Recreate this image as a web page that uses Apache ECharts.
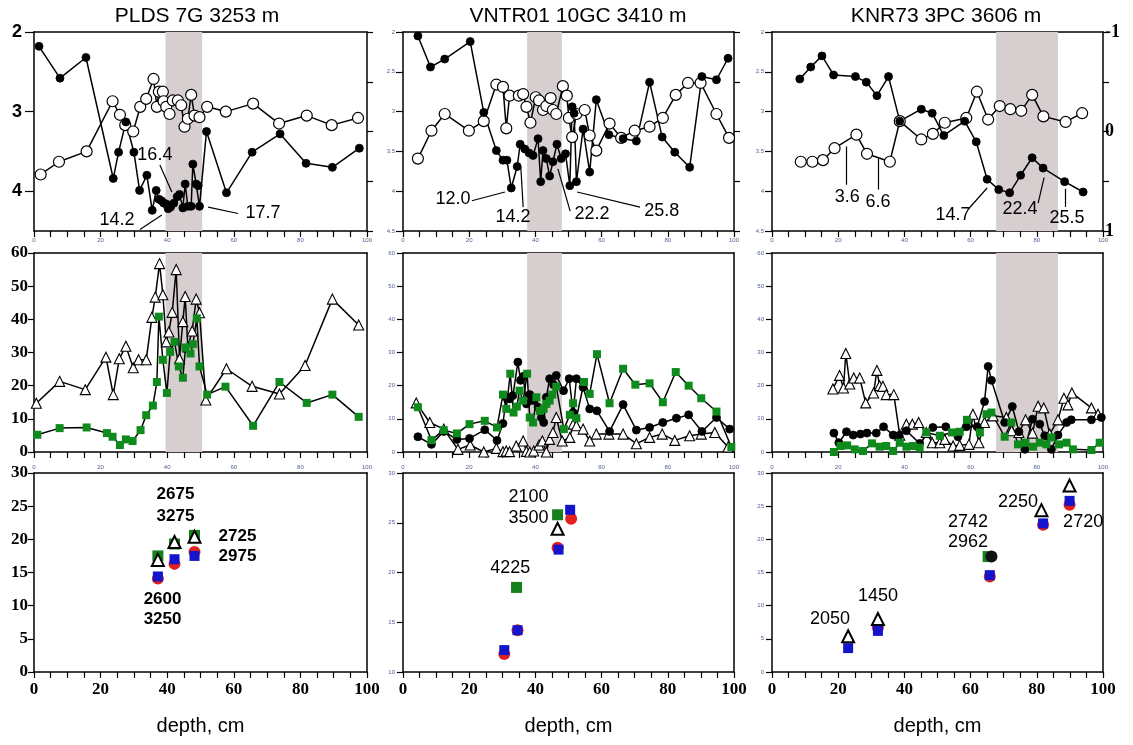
<!DOCTYPE html>
<html><head><meta charset="utf-8">
<script src="https://cdn.jsdelivr.net/npm/echarts@6/dist/echarts.min.js"></script>
<style>html,body{margin:0;padding:0;background:#fff}#c{width:1133px;height:745px}</style>
</head><body><div id="c"></div>
<script>
// ---------- DATA ----------
const titles = ['PLDS 7G 3253 m', 'VNTR01 10GC 3410 m', 'KNR73 3PC 3606 m'];
const bands = [[39.5, 50.5], [37.5, 48.0], [67.7, 86.4]];
const depthTickLabels = [0, 20, 40, 60, 80, 100];

// PLDS 7G - top (closed / open circles)
const plTopClosed = [[1.5,2.18],[7.8,2.58],[15.6,2.32],[23.8,3.84],[25.4,3.51],[27.6,3.13],[30.0,3.51],[31.7,3.99],[33.9,3.80],[35.5,4.24],[36.7,3.99],[37.5,4.10],[38.3,4.12],[39.0,4.15],[39.7,4.16],[40.3,4.22],[41.0,4.20],[42.0,4.15],[43.0,4.07],[43.7,4.04],[44.7,4.21],[45.4,3.91],[46.2,4.19],[47.2,4.19],[47.7,3.66],[48.7,3.91],[49.3,3.93],[49.7,4.19],[51.8,3.25],[57.8,4.02],[65.5,3.51],[73.9,3.28],[81.7,3.65],[89.6,3.70],[97.7,3.46]];
const plTopOpen = [[2.0,3.79],[7.5,3.63],[15.8,3.50],[23.6,2.87],[25.8,3.04],[27.4,3.17],[29.8,3.25],[31.9,2.94],[33.7,2.84],[35.9,2.59],[36.9,2.94],[37.5,2.75],[38.7,2.75],[38.9,2.87],[39.7,2.94],[40.7,3.03],[41.7,2.86],[43.2,2.86],[44.2,2.92],[45.2,3.19],[46.2,3.09],[47.2,2.79],[48.2,3.05],[49.7,3.07],[52.0,2.94],[57.6,3.00],[65.8,2.90],[73.6,3.15],[81.9,3.05],[89.4,3.17],[97.3,3.08]];
const plTopLabels = [[36.3,3.55,'16.4'],[24.9,4.36,'14.2'],[68.8,4.28,'17.7']];
const plTopLeaders = [[[37.8,3.67],[41.4,4.01]],[[31.8,4.48],[38.4,4.30]],[[52.3,4.20],[61.3,4.28]]];
// PLDS 7G - middle
const plMidTri = [[0.7,14.7],[7.7,21.3],[15.4,18.8],[21.6,28.6],[23.8,17.3],[25.6,28.1],[27.6,31.9],[29.8,25.4],[31.4,27.8],[33.7,27.8],[35.4,40.6],[36.4,46.7],[37.7,56.8],[38.7,47.4],[39.7,33.2],[40.5,36.2],[41.5,42.1],[42.7,55.0],[43.7,28.1],[44.7,39.3],[45.4,46.9],[46.2,31.7],[47.5,36.5],[48.7,46.1],[49.7,42.0],[51.6,15.7],[57.8,25.1],[65.5,19.8],[73.7,17.5],[81.4,26.1],[89.6,46.1],[97.5,38.3]];
const plMidGreen = [[1.0,5.2],[7.7,7.2],[15.8,7.4],[21.9,5.7],[23.6,4.6],[25.8,2.1],[27.6,3.8],[29.6,3.3],[32.0,6.6],[33.7,11.1],[35.7,14.0],[36.9,21.1],[37.5,40.8],[38.7,27.8],[39.9,17.8],[40.9,30.2],[42.2,33.2],[43.5,25.8],[44.7,22.4],[45.5,31.5],[47.0,29.7],[47.7,32.5],[48.9,40.3],[49.7,25.8],[52.0,17.3],[57.5,19.7],[65.8,7.9],[73.7,21.1],[81.9,14.8],[89.6,17.3],[97.5,10.6]];
// PLDS 7G - bottom
const plBotRed = [[37.2,14.1],[42.2,16.3],[48.2,18.1]];
const plBotBlue = [[37.2,14.4],[42.2,17.0],[48.2,17.5]];
const plBotGreen = [[37.2,17.5],[42.2,19.3],[48.2,20.6]];
const plBotTri = [[37.2,16.9],[42.2,19.6],[48.2,20.4]];
const plBotLabels = [[42.5,26.8,'2675'],[42.5,23.5,'3275'],[61.1,20.5,'2725'],[61.1,17.4,'2975'],[38.6,11.0,'2600'],[38.6,7.9,'3250']];

// VNTR01 10GC - top
const vnTopClosed = [[4.5,2.05],[8.3,2.44],[12.6,2.34],[20.3,2.12],[24.4,3.01],[28.2,3.49],[30.2,3.61],[31.4,3.61],[32.7,3.96],[34.5,3.69],[35.4,3.41],[36.8,3.47],[38.1,3.52],[39.3,3.55],[40.8,3.34],[41.6,3.88],[42.3,3.49],[43.3,3.59],[44.3,3.81],[45.3,3.63],[46.5,3.41],[47.8,3.59],[49.1,3.53],[50.4,3.93],[51.1,2.94],[51.7,3.02],[52.4,3.88],[54.4,3.22],[56.4,3.76],[58.4,2.85],[62.2,3.29],[66.5,3.34],[70.5,3.37],[74.5,2.63],[78.3,3.32],[82.1,3.51],[86.6,3.70],[90.3,2.56],[94.7,2.60],[98.2,2.33]];
const vnTopOpen = [[4.5,3.59],[8.6,3.24],[12.6,3.03],[19.9,3.24],[24.4,3.12],[28.2,2.66],[30.2,2.69],[31.2,3.21],[32.2,2.80],[35.0,2.80],[36.3,2.78],[37.3,2.94],[38.5,3.14],[40.1,2.82],[41.1,2.86],[42.3,2.98],[43.3,2.93],[44.6,2.83],[45.3,2.98],[46.3,3.03],[48.3,2.68],[49.5,2.80],[50.1,3.08],[51.1,3.32],[52.4,3.03],[54.9,2.98],[56.4,3.30],[58.4,3.49],[62.4,3.15],[65.9,3.33],[70.0,3.24],[74.5,3.19],[78.5,3.08],[82.4,2.79],[86.1,2.64],[89.9,2.64],[94.7,3.03],[98.5,3.33]];
const vnTopLabels = [[15.1,4.10,'12.0'],[33.2,4.32,'14.2'],[57.1,4.29,'22.2'],[78.2,4.25,'25.8']];
const vnTopLeaders = [[[20.8,4.12],[30.8,4.01]],[[36.3,4.20],[35.6,3.70]],[[50.5,4.25],[46.8,3.72]],[[71.6,4.20],[52.6,4.01]]];
// VNTR01 10GC - middle
const vnMidGreen = [[4.5,13.5],[8.6,3.6],[12.3,6.6],[16.3,5.6],[20.1,8.4],[24.7,9.4],[28.4,7.4],[30.2,17.3],[31.2,13.0],[32.4,23.6],[33.4,11.9],[34.4,13.7],[35.2,18.5],[36.3,15.5],[37.5,23.6],[38.3,10.4],[39.3,8.9],[40.3,16.5],[41.3,12.4],[42.5,13.0],[43.3,14.5],[44.3,15.5],[45.1,17.3],[46.3,19.7],[48.6,6.9],[50.4,11.2],[51.4,14.7],[52.4,10.2],[54.7,21.1],[56.4,17.5],[58.6,29.5],[62.4,14.7],[66.5,25.1],[70.2,20.3],[74.5,20.7],[78.5,15.0],[82.4,24.1],[86.3,20.0],[90.1,16.2],[94.7,12.2],[99.2,1.5]];
const vnMidClosed = [[4.5,4.6],[8.6,2.3],[12.3,6.2],[16.3,3.8],[20.1,4.1],[24.7,6.7],[28.4,3.5],[30.2,8.6],[31.2,16.5],[32.2,16.0],[33.2,17.0],[34.7,27.1],[35.5,21.6],[36.3,22.8],[37.3,14.5],[38.3,17.3],[39.3,15.5],[40.8,13.5],[41.8,10.4],[42.5,8.9],[43.3,16.5],[44.3,22.1],[45.5,20.3],[46.3,23.1],[48.5,18.5],[50.2,22.1],[51.4,11.9],[52.4,22.1],[54.4,19.5],[56.4,13.0],[58.6,12.4],[62.4,6.2],[66.5,14.3],[70.5,6.6],[74.5,7.4],[78.5,8.9],[82.6,10.2],[86.3,11.2],[90.3,6.2],[94.7,10.4],[98.7,6.9]];
const vnMidTri = [[4.0,14.8],[8.1,8.9],[12.3,6.9],[16.6,0.8],[20.3,2.1],[24.4,0.0],[28.2,1.1],[30.2,0.1],[31.2,0.3],[32.2,0.1],[34.2,1.8],[36.3,3.3],[37.3,0.2],[38.3,0.0],[39.5,0.3],[41.1,2.1],[42.1,3.3],[43.3,0.0],[44.3,3.8],[45.3,5.9],[46.3,10.4],[48.1,3.3],[50.4,4.4],[51.4,8.4],[52.4,7.9],[54.4,6.9],[56.4,3.3],[58.4,5.4],[62.2,5.4],[66.5,5.4],[70.5,2.5],[74.5,4.4],[78.3,5.4],[82.1,3.5],[86.6,4.9],[90.1,5.4],[94.2,5.9],[98.2,1.5]];
// VNTR01 10GC - bottom
const vnBotRed = [[30.6,11.8],[34.6,14.2],[46.7,22.5],[50.8,25.4]];
const vnBotBlue = [[30.6,12.2],[34.6,14.2],[47.0,22.3],[50.5,26.3]];
const vnBotGreen = [[34.3,18.5],[46.7,25.8]];
const vnBotTri = [[46.7,24.4]];
const vnBotLabels = [[37.9,27.6,'2100'],[37.9,25.5,'3500'],[32.4,20.4,'4225']];

// KNR73 3PC - top
const knTopClosed = [[8.4,2.59],[11.7,2.44],[15.1,2.30],[18.6,2.54],[25.2,2.56],[28.5,2.63],[31.7,2.80],[35.2,2.56],[38.6,3.12],[45.1,2.97],[48.4,3.02],[51.9,3.30],[58.2,3.12],[61.7,3.38],[65.0,3.85],[68.5,3.98],[71.8,4.02],[75.1,3.80],[78.6,3.58],[81.9,3.71],[88.4,3.88],[94.0,4.01]];
const knTopOpen = [[8.7,3.63],[12.2,3.63],[15.4,3.61],[18.9,3.46],[25.5,3.29],[28.7,3.53],[35.6,3.63],[38.6,3.12],[45.1,3.35],[48.6,3.28],[52.2,3.14],[58.7,3.08],[61.9,2.75],[65.3,3.10],[68.8,2.93],[72.0,2.97],[75.3,2.99],[78.6,2.79],[82.0,3.06],[88.7,3.13],[93.7,3.02]];
const knTopLabels = [[22.7,4.07,'3.6'],[32.0,4.13,'6.6'],[54.7,4.30,'14.7'],[74.9,4.23,'22.4'],[89.1,4.34,'25.5']];
const knTopLeaders = [[[22.4,3.92],[22.4,3.44]],[[32.0,3.98],[32.0,3.59]],[[59.2,4.23],[65.0,3.96]],[[80.4,4.15],[82.2,3.83]],[[88.5,4.20],[88.5,3.97]]];
// KNR73 3PC - middle
const knMidTri = [[18.4,19.0],[20.4,23.1],[21.6,19.3],[22.3,29.7],[23.5,20.5],[24.7,22.3],[26.5,22.3],[28.3,14.8],[30.7,17.8],[31.7,24.6],[32.5,20.0],[33.5,19.8],[34.5,17.3],[36.8,17.3],[38.6,5.1],[40.6,8.4],[42.4,8.4],[44.3,8.9],[46.6,5.9],[48.4,2.8],[50.7,2.8],[52.2,3.8],[54.7,1.8],[56.7,2.0],[59.5,2.3],[60.7,11.4],[62.5,2.8],[64.2,8.9],[66.8,10.9],[70.8,10.4],[72.4,6.4],[74.6,5.9],[76.6,9.7],[78.7,5.7],[80.4,13.8],[82.1,13.3],[83.9,5.4],[86.4,9.7],[88.2,16.2],[89.4,14.2],[90.6,17.8],[96.5,13.3],[98.5,11.4]];
const knMidClosed = [[18.7,5.7],[20.2,2.8],[22.5,6.1],[24.5,5.1],[26.7,5.4],[28.7,5.7],[31.5,5.7],[33.7,7.6],[36.6,5.1],[38.4,5.0],[40.6,6.4],[44.6,2.6],[48.6,7.4],[52.5,7.6],[56.2,4.6],[58.7,7.6],[62.0,7.6],[64.2,15.2],[65.3,25.8],[66.3,21.6],[70.3,8.9],[72.6,13.7],[74.6,6.1],[76.4,0.8],[78.7,9.9],[80.9,8.4],[82.4,4.9],[84.4,0.8],[86.4,5.1],[89.0,8.9],[90.4,9.7],[96.5,9.7],[99.5,10.4]];
const knMidGreen = [[18.7,0.0],[20.7,1.8],[22.7,2.0],[25.0,0.8],[27.5,0.3],[30.2,2.6],[32.5,1.6],[34.5,1.8],[36.6,0.3],[38.6,2.8],[40.6,1.6],[42.6,1.8],[44.6,1.3],[46.6,5.9],[50.7,4.9],[54.4,5.9],[56.7,6.1],[58.9,9.7],[62.8,5.9],[64.8,11.4],[66.3,11.9],[70.3,4.6],[72.3,8.9],[74.3,2.3],[76.6,2.8],[78.9,1.6],[80.9,2.8],[82.9,2.3],[84.4,4.4],[86.7,2.3],[89.0,2.8],[90.9,0.8],[96.5,0.6],[99.0,2.8]];
// KNR73 3PC - bottom
const knBotRed = [[32.0,6.7],[65.8,14.4],[81.9,22.2],[89.9,25.2]];
const knBotBlue = [[23.0,3.6],[32.0,6.2],[65.8,14.6],[81.9,22.4],[89.9,25.8]];
const knBotGreen = [[65.3,17.4]];
const knBotBlack = [[66.3,17.4]];
const knBotTri = [[23.0,5.4],[32.0,8.0],[81.4,24.4],[89.9,28.1]];
const knBotLabels = [[17.5,8.0,'2050'],[32.0,11.5,'1450'],[59.2,22.6,'2742'],[59.2,19.6,'2962'],[74.3,25.6,'2250'],[94.0,22.6,'2720']];

// ---------- LAYOUT ----------
const colLeft = [34, 403, 772], colWidth = [333, 331, 331];
const rowTop = [32, 253, 473], rowH = 199;
const grids = [], xAxes = [], yAxes = [], series = [];
const SANS = 'Liberation Sans', SERIF = 'Liberation Serif';
const lineBlack = { color: '#000', width: 1.5 };
const tiny = { show: true, fontSize: 6, color: '#4d5f90', fontFamily: SANS };
const by20 = v => (depthTickLabels.indexOf(v) >= 0 ? String(v) : '');

const yLeftCfg = [
  [ {min:2,max:4.5,interval:1,inverse:true,label:{show:true,fontFamily:SANS,fontWeight:'bold',fontSize:18,color:'#000',margin:12,showMaxLabel:false},tick:9},
    {min:2,max:4.5,interval:0.5,inverse:true,label:Object.assign({margin:8},tiny),tick:7},
    {min:2,max:4.5,interval:0.5,inverse:true,label:Object.assign({margin:8},tiny),tick:7} ],
  [ {min:0,max:60,interval:10,label:{show:true,fontFamily:SERIF,fontWeight:'bold',fontSize:17,color:'#000',margin:6},tick:6},
    {min:0,max:60,interval:10,label:Object.assign({margin:8},tiny),tick:6},
    {min:0,max:60,interval:10,label:Object.assign({margin:8},tiny),tick:6} ],
  [ {min:0,max:30,interval:5,label:{show:true,fontFamily:SERIF,fontWeight:'bold',fontSize:17,color:'#000',margin:6},tick:6},
    {min:10,max:30,interval:5,label:Object.assign({margin:8},tiny),tick:6},
    {min:0,max:30,interval:5,label:Object.assign({margin:8},tiny),tick:6} ]
];

for (let r = 0; r < 3; r++) {
  for (let c = 0; c < 3; c++) {
    const g = r * 3 + c;
    grids.push({ left: colLeft[c], top: rowTop[r], width: colWidth[c], height: rowH, containLabel: false, outerBoundsMode: 'none' });
    const xb = { type: 'value', gridIndex: g, min: 0, max: 100, interval: 5, position: 'bottom',
      axisLine: { show: true, onZero: false, lineStyle: lineBlack },
      axisTick: { show: true, inside: false, length: 6, lineStyle: { color: '#000', width: 1.2 } },
      splitLine: { show: false }, axisLabel: { show: false } };
    if (r === 0) xb.axisLabel = Object.assign({ margin: 6, formatter: by20 }, tiny);
    if (r === 2) {
      xb.axisLabel = { show: true, fontFamily: SERIF, fontWeight: 'bold', fontSize: 17, color: '#000', margin: 9, formatter: by20 };
      xb.name = 'depth, cm'; xb.nameLocation = 'middle'; xb.nameGap = 44;
      xb.nameTextStyle = { fontFamily: SANS, fontSize: 20, color: '#000' };
    }
    xAxes.push(xb);
    const xt = { type: 'value', gridIndex: g, min: 0, max: 100, interval: 5, position: 'top',
      axisLine: { show: true, onZero: false, lineStyle: lineBlack },
      axisTick: { show: false }, splitLine: { show: false }, axisLabel: { show: false } };
    if (r === 2) xt.axisLabel = Object.assign({ margin: 3, formatter: by20 }, tiny);
    xAxes.push(xt);
    const yc = yLeftCfg[r][c];
    yAxes.push({ type: 'value', gridIndex: g, min: yc.min, max: yc.max, interval: yc.interval, inverse: yc.inverse || false,
      position: 'left', axisLine: { show: true, onZero: false, lineStyle: lineBlack },
      axisTick: { show: true, inside: false, length: yc.tick, lineStyle: { color: '#000', width: 1.2 } },
      splitLine: { show: false }, axisLabel: yc.label });
    const yr = { type: 'value', gridIndex: g, position: 'right', min: 0, max: 4, interval: 1,
      axisLine: { show: true, onZero: false, lineStyle: lineBlack },
      axisTick: { show: false }, splitLine: { show: false }, axisLabel: { show: false } };
    if (r === 0) {
      yr.axisTick = { show: true, inside: false, length: 6, lineStyle: { color: '#000', width: 1.2 } };
      if (c === 2) {
        yr.min = -1; yr.max = 1; yr.interval = 0.5; yr.inverse = true;
        yr.axisLabel = { show: true, fontFamily: SERIF, fontWeight: 'bold', fontSize: 18, color: '#000', margin: 2,
          formatter: v => (Math.abs(v - Math.round(v)) < 1e-9 ? String(Math.round(v)) : '') };
      }
    }
    yAxes.push(yr);
  }
}

// ---------- SERIES ----------
const noHover = { disabled: true };
function mk(g, data, kind, band) {
  const s = { type: 'line', xAxisIndex: 2 * g, yAxisIndex: 2 * g, data: data, animation: false,
    showSymbol: true, showAllSymbol: true, emphasis: noHover, lineStyle: { color: '#000', width: 1.5 }, z: 3 };
  if (kind === 'closed') { s.symbol = 'circle'; s.symbolSize = 8; s.itemStyle = { color: '#000', borderColor: '#000', borderWidth: 0.8, opacity: 1 }; }
  if (kind === 'open') { s.symbol = 'circle'; s.symbolSize = 11; s.itemStyle = { color: '#fff', borderColor: '#000', borderWidth: 1.2, opacity: 1 }; }
  if (kind === 'tri') { s.symbol = 'triangle'; s.symbolSize = 10; s.itemStyle = { color: '#fff', borderColor: '#000', borderWidth: 1.1, opacity: 1 }; }
  if (kind === 'green') { s.symbol = 'rect'; s.symbolSize = 8; s.itemStyle = { color: '#0f8a1c', borderWidth: 0, opacity: 1 }; }
  if (band) {
    s.markArea = { silent: true, label: { show: false }, itemStyle: { color: '#d7cfcf', opacity: 1 },
      data: [[{ xAxis: band[0] }, { xAxis: band[1] }]] };
  }
  series.push(s);
}
function dots(g, data, kind) {
  const s = { type: 'scatter', xAxisIndex: 2 * g, yAxisIndex: 2 * g, data: data, animation: false, emphasis: noHover, z: 3 };
  if (kind === 'red') { s.symbol = 'circle'; s.symbolSize = 12; s.itemStyle = { color: '#e3211c', opacity: 1 }; }
  if (kind === 'blue') { s.symbol = 'rect'; s.symbolSize = 10; s.itemStyle = { color: '#1414cc', opacity: 1 }; }
  if (kind === 'green') { s.symbol = 'rect'; s.symbolSize = 11; s.itemStyle = { color: '#15801c', opacity: 1 }; }
  if (kind === 'black') { s.symbol = 'circle'; s.symbolSize = 12; s.itemStyle = { color: '#111', opacity: 1 }; }
  if (kind === 'tri') { s.symbol = 'triangle'; s.symbolSize = 12; s.itemStyle = { color: '#fff', borderColor: '#000', borderWidth: 2, opacity: 1 }; }
  series.push(s);
}
function texts(g, arr, size, weight) {
  series.push({ type: 'scatter', xAxisIndex: 2 * g, yAxisIndex: 2 * g, animation: false, silent: true, z: 6,
    symbol: 'circle', symbolSize: 1, itemStyle: { color: 'rgba(0,0,0,0)', opacity: 1 },
    data: arr.map(a => ({ value: [a[0], a[1]], name: a[2] })),
    label: { show: true, position: 'inside', formatter: '{b}', fontFamily: SANS, fontSize: size, fontWeight: weight, color: '#000', opacity: 1 } });
}
function leaders(g, arr) {
  series.push({ type: 'lines', coordinateSystem: 'cartesian2d', xAxisIndex: 2 * g, yAxisIndex: 2 * g, animation: false, silent: true, z: 5,
    lineStyle: { color: '#000', width: 1.2, opacity: 1 }, data: arr.map(a => ({ coords: a })) });
}

mk(0, plTopOpen, 'open', bands[0]); mk(0, plTopClosed, 'closed');
leaders(0, plTopLeaders); texts(0, plTopLabels, 18, 'normal');
mk(3, plMidTri, 'tri', bands[0]); mk(3, plMidGreen, 'green');
dots(6, plBotRed, 'red'); dots(6, plBotBlue, 'blue'); dots(6, plBotGreen, 'green'); dots(6, plBotTri, 'tri');
texts(6, plBotLabels, 17, 'bold');

mk(1, vnTopOpen, 'open', bands[1]); mk(1, vnTopClosed, 'closed');
leaders(1, vnTopLeaders); texts(1, vnTopLabels, 18, 'normal');
mk(4, vnMidTri, 'tri', bands[1]); mk(4, vnMidClosed, 'closed'); mk(4, vnMidGreen, 'green');
dots(7, vnBotRed, 'red'); dots(7, vnBotBlue, 'blue'); dots(7, vnBotGreen, 'green'); dots(7, vnBotTri, 'tri');
texts(7, vnBotLabels, 18, 'normal');

mk(2, knTopOpen, 'open', bands[2]); mk(2, knTopClosed, 'closed');
leaders(2, knTopLeaders); texts(2, knTopLabels, 18, 'normal');
mk(5, knMidTri, 'tri', bands[2]); mk(5, knMidClosed, 'closed'); mk(5, knMidGreen, 'green');
dots(8, knBotRed, 'red'); dots(8, knBotBlue, 'blue'); dots(8, knBotGreen, 'green'); dots(8, knBotBlack, 'black'); dots(8, knBotTri, 'tri');
texts(8, knBotLabels, 18, 'normal');

const titleCenters = [197, 578, 946];
const option = {
  backgroundColor: '#fff',
  animation: false,
  grid: grids, xAxis: xAxes, yAxis: yAxes, series: series,
  graphic: titles.map((t, i) => ({ type: 'text', x: titleCenters[i], y: 16, silent: true,
    style: { text: t, fontFamily: SANS, fontSize: 21, fill: '#000', align: 'center', verticalAlign: 'middle' } }))
};
const chart = echarts.init(document.getElementById('c'), null, { renderer: 'canvas' });
chart.setOption(option);
</script></body></html>
